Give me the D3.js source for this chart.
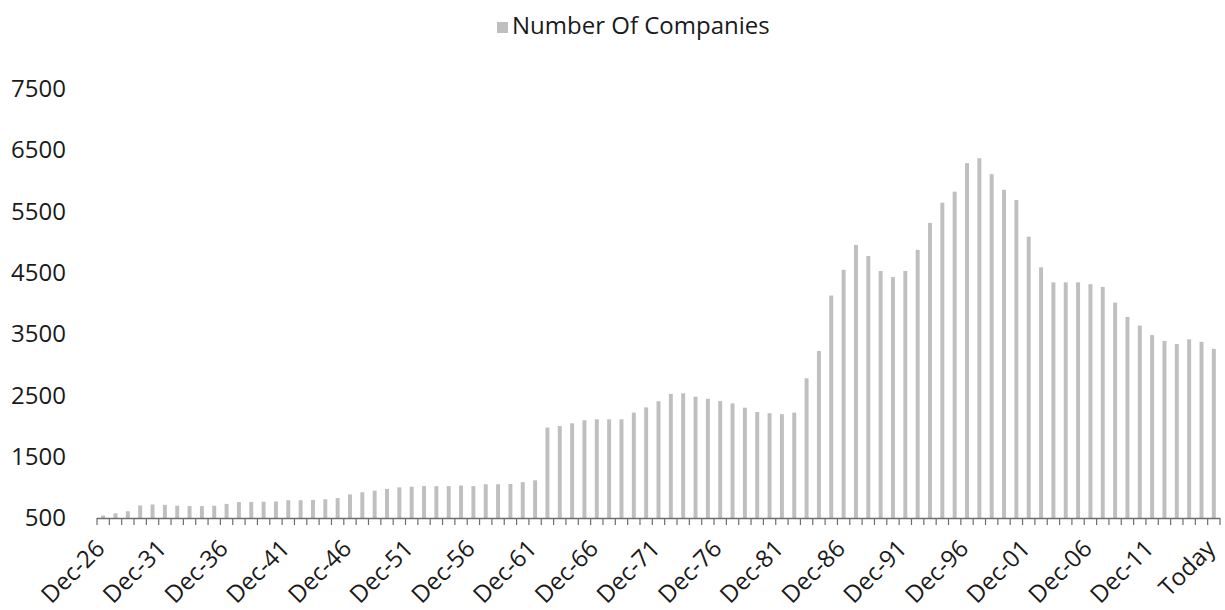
<!DOCTYPE html>
<html>
<head>
<meta charset="utf-8">
<script src="https://cdn.jsdelivr.net/npm/d3@7"></script>
<style>
  html, body { margin: 0; padding: 0; background: #fff; }
  svg text { font-family: "Open Sans", "Noto Sans", sans-serif; fill: #1a1a1a; }
</style>
</head>
<body>
<svg id="chart" width="1225" height="610"></svg>
<script>
(function () {
// ── Data ──
const years = d3.range(1926, 2017);
const categories = years.map((y, i) => i === years.length - 1 ? "Today" : "Dec-" + String(y % 100).padStart(2, "0"));

const companies = [
  540, 575, 610, 705, 720, 715, 700, 695, 695, 700,
  730, 760, 760, 765, 770, 790, 790, 795, 805, 825,
  885, 920, 945, 975, 1000, 1010, 1020, 1020, 1020, 1030,
  1020, 1050, 1050, 1055, 1085, 1115, 1975, 2000, 2045, 2095,
  2110, 2110, 2110, 2220, 2305, 2405, 2525, 2535, 2480, 2445,
  2410, 2370, 2300, 2230, 2210, 2195, 2220, 2780, 3225, 4130,
  4550, 4955, 4775, 4530, 4430, 4530, 4875, 5315, 5645, 5825,
  6290, 6370, 6110, 5855, 5690, 5090, 4590, 4345, 4345, 4345,
  4315, 4270, 4015, 3780, 3640, 3485, 3390, 3340, 3415, 3375,
  3260
];

const yTicks = [500, 1500, 2500, 3500, 4500, 5500, 6500, 7500];
const seriesName = "Number Of Companies";

// ── Layout ──
const barColor = "#bfbfbf";
const axisColor = "#6e6e6e";
const mLeft = 97, mRight = 1220, mTop = 89, mBottom = 518;

const svg = d3.select("#chart");

const x = d3.scaleBand()
    .domain(categories)
    .range([mLeft, mRight])
    .paddingInner(0.68)
    .paddingOuter(0.34);

const y = d3.scaleLinear()
    .domain([500, 7500])
    .range([mBottom, mTop]);

// ── Bars ──
svg.append("g")
  .selectAll("rect")
  .data(companies)
  .join("rect")
    .attr("x", (d, i) => x(categories[i]))
    .attr("y", d => y(d))
    .attr("width", x.bandwidth())
    .attr("height", d => y(500) - y(d))
    .attr("fill", barColor);

// ── Y axis (labels only) ──
const yAxis = svg.append("g")
    .attr("transform", "translate(66,0)")
    .call(d3.axisLeft(y).tickValues(yTicks).tickSize(0).tickPadding(0).tickFormat(d3.format("d")));
yAxis.select(".domain").remove();
yAxis.selectAll("text").style("font-size", "24px");

// ── X axis line + boundary ticks ──
const xg = svg.append("g");
xg.append("line")
    .attr("x1", mLeft).attr("x2", mRight)
    .attr("y1", mBottom + 0.5).attr("y2", mBottom + 0.5)
    .attr("stroke", axisColor).attr("stroke-width", 1.5);
xg.selectAll("line.tk")
  .data(d3.range(categories.length + 1))
  .join("line")
    .attr("class", "tk")
    .attr("x1", i => mLeft + i * x.step())
    .attr("x2", i => mLeft + i * x.step())
    .attr("y1", mBottom)
    .attr("y2", mBottom + 7)
    .attr("stroke", axisColor).attr("stroke-width", 1.2);

// ── X labels every 5 years ──
const xAxis = svg.append("g")
    .attr("transform", `translate(0,${mBottom})`)
    .call(d3.axisBottom(x).tickValues(categories.filter((c, i) => i % 5 === 0)).tickSize(0));
xAxis.select(".domain").remove();
xAxis.selectAll("text")
    .style("font-size", "24px")
    .attr("text-anchor", "end")
    .attr("dy", null)
    .attr("y", 0)
    .attr("transform", "translate(3,32) rotate(-45)");

// ── Legend ──
const legend = svg.append("g").attr("transform", "translate(497,20)");
legend.append("rect").attr("width", 11).attr("height", 11).attr("y", 2).attr("fill", barColor);
legend.append("text")
    .attr("x", 15).attr("y", 14)
    .style("font-size", "24px")
    .text(seriesName);
})();
</script>
</body>
</html>
